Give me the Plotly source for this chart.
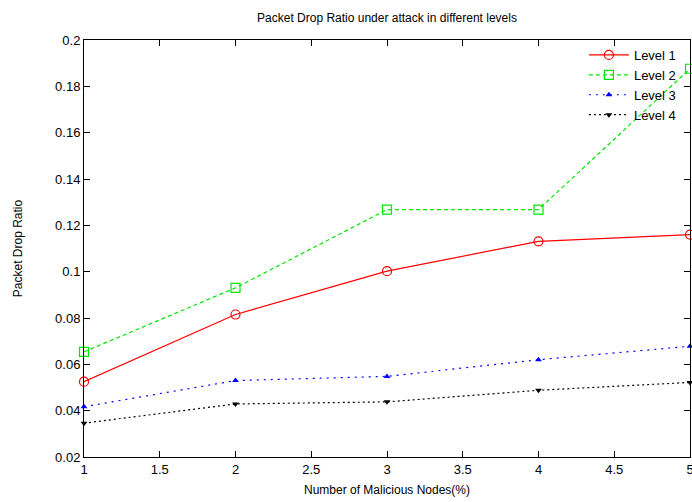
import plotly.graph_objects as go

x_nodes = [1, 2, 3, 4, 5]
level1 = [0.0525, 0.0815, 0.1002, 0.1131, 0.1160]
level2 = [0.0654, 0.0930, 0.1268, 0.1268, 0.1876]
level3 = [0.0417, 0.0530, 0.0548, 0.0620, 0.0678]
level4 = [0.0346, 0.0429, 0.0438, 0.0488, 0.0522]

x_ticks = [1, 1.5, 2, 2.5, 3, 3.5, 4, 4.5, 5]
x_tick_labels = ["1", "1.5", "2", "2.5", "3", "3.5", "4", "4.5", "5"]
y_ticks = [0.02, 0.04, 0.06, 0.08, 0.1, 0.12, 0.14, 0.16, 0.18, 0.2]
y_tick_labels = ["0.02", "0.04", "0.06", "0.08", "0.1", "0.12", "0.14", "0.16", "0.18", "0.2"]

FONT = "Liberation Sans, Arial, sans-serif"

fig = go.Figure()
fig.add_trace(go.Scatter(x=x_nodes, y=level1, name="Level 1", mode="lines+markers", cliponaxis=False,
                         line=dict(color="#ff0000", width=1.2, dash="solid"),
                         marker=dict(symbol="circle-open", size=9, color="#ff0000", line=dict(width=1.2))))
fig.add_trace(go.Scatter(x=x_nodes, y=level2, name="Level 2", mode="lines+markers", cliponaxis=False,
                         line=dict(color="#00e600", width=1.2, dash="4px,3px"),
                         marker=dict(symbol="square-open", size=9, color="#00e600", line=dict(width=1.2))))
fig.add_trace(go.Scatter(x=x_nodes, y=level3, name="Level 3", mode="lines+markers", cliponaxis=False,
                         line=dict(color="#0000ff", width=1.2, dash="2px,5px"),
                         marker=dict(symbol="triangle-up", size=6, color="#0000ff")))
fig.add_trace(go.Scatter(x=x_nodes, y=level4, name="Level 4", mode="lines+markers", cliponaxis=False,
                         line=dict(color="#000000", width=1.2, dash="2px,3px"),
                         marker=dict(symbol="triangle-down", size=6, color="#000000")))

axis_common = dict(showline=True, linecolor="black", linewidth=1, mirror="ticks",
                   ticks="inside", ticklen=6, tickcolor="black", showgrid=False,
                   zeroline=False, automargin=False, ticklabeloverflow="allow",
                   tickfont=dict(family=FONT, size=13, color="black"))

fig.update_xaxes(range=[1, 5], tickvals=x_ticks, ticktext=x_tick_labels,
                 title=dict(text="Number of Malicious Nodes(%)", font=dict(family=FONT, size=12, color="black"),
                            standoff=10),
                 **axis_common)
fig.update_yaxes(range=[0.02, 0.2], tickvals=y_ticks, ticktext=y_tick_labels,
                 title=dict(text="Packet Drop Ratio", font=dict(family=FONT, size=12, color="black"),
                            standoff=29),
                 **axis_common)

fig.update_layout(
    width=692, height=502,
    margin=dict(l=84, r=2, t=40, b=45),
    paper_bgcolor="white", plot_bgcolor="white",
    title=dict(text="Packet Drop Ratio under attack in different levels",
               font=dict(family=FONT, size=12, color="black"),
               x=0.5, xref="paper", y=0.965, yanchor="middle"),
    legend=dict(x=0.985, y=1.0, xanchor="right", yanchor="top",
                bgcolor="rgba(0,0,0,0)", font=dict(family=FONT, size=13, color="black"),
                itemwidth=40, tracegroupgap=0),
    showlegend=True,
)

fig.write_html("out.html", config={"displayModeBar": False},
               post_script="document.body.style.margin='0';document.body.style.overflow='hidden';")
